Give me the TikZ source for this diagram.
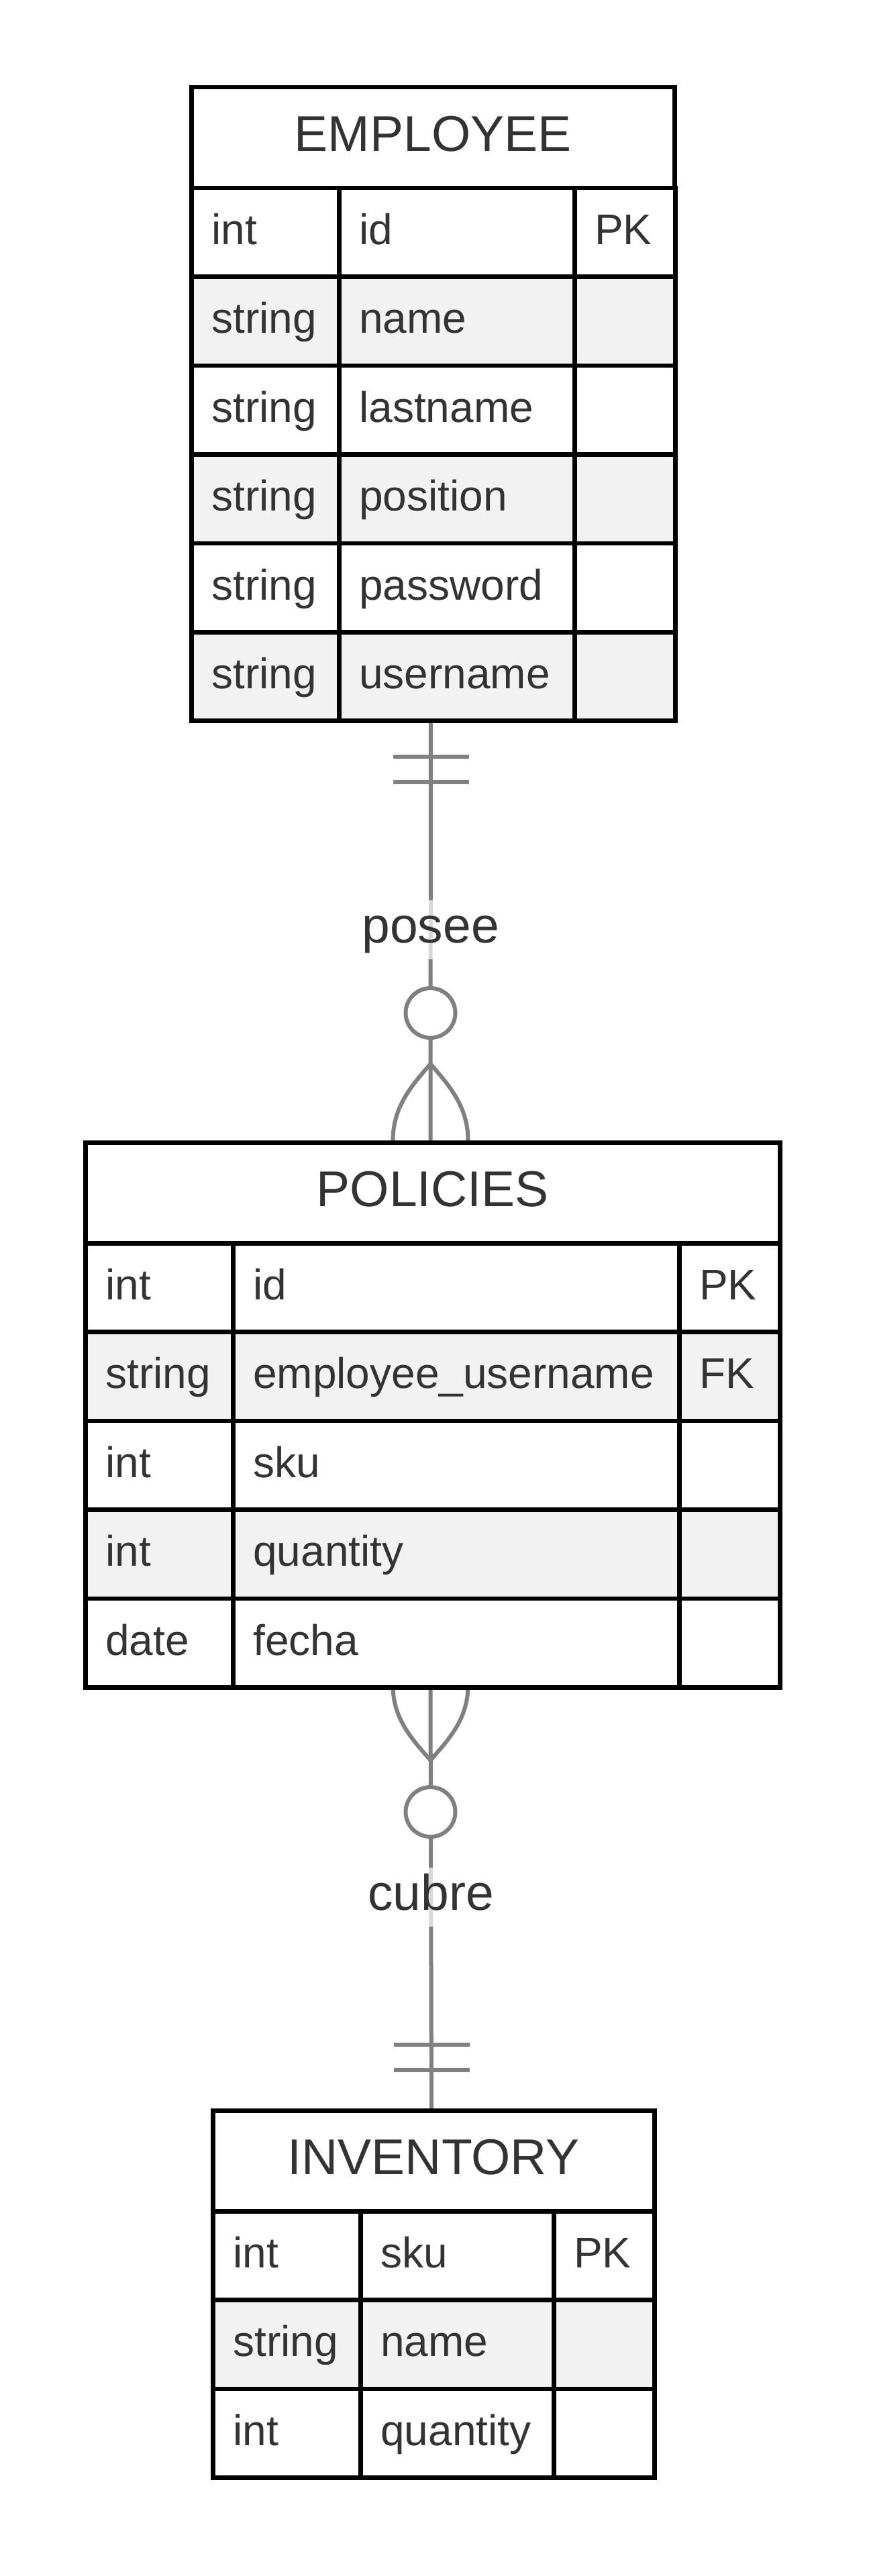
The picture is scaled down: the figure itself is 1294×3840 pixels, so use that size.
\documentclass[tikz,border=0pt]{standalone}
\usepackage{fontspec}
\setmainfont{Liberation Sans}
\usepackage{tikz}
\definecolor{textgray}{HTML}{333333}
\definecolor{rowgray}{HTML}{F2F2F2}
\definecolor{relgray}{HTML}{808080}
\newcommand*{\headfont}{\fontsize{75}{80}\selectfont}
\newcommand*{\rowfont}{\fontsize{64}{70}\selectfont}

\begin{document}
\begin{tikzpicture}
[
    x = 1pt, y = -1pt,
    tablebox/.style={anchor = north west, inner sep = 0pt, outer sep = 0pt},
    headcell/.style={draw = black, fill = white, line width = 6.5pt, anchor = north west, minimum height = 150pt, inner xsep = 30pt, inner ysep = 0pt, text height = 56pt, text depth = 16pt, align = center, font = \headfont, text = textgray},
    cell/.style={draw = black, line width = 6.5pt, anchor = north west, minimum height = 132.4pt, inner xsep = 30pt, inner ysep = 0pt, text height = 50pt, text depth = 14pt, align = left, font = \rowfont, text = textgray},
    typecell/.style={cell, text width = 160pt},
    keycell/.style={cell, text width = 90pt},
    rel/.style={draw = relgray, line width = 6pt},
    optional/.style={circle, draw = relgray, fill = white, line width = 6pt, minimum size = 74pt, inner sep = 0pt},
    rellabel/.style={fill = white, fill opacity = .7, text opacity = 1, inner sep = 0pt, text height = 64pt, text depth = 24pt, font = \headfont, text = textgray},
]
\useasboundingbox (0,0) rectangle (1294,3840);

% Table frames, used as connector ends
\node[tablebox, minimum width = 720pt, minimum height = 944.4pt] (employee) at (282,127) {};
\node[tablebox, minimum width = 1035pt, minimum height = 812pt] (policies) at (124,1700) {};
\node[tablebox, minimum width = 658pt, minimum height = 547.2pt] (inventory) at (314,3143) {};

% EMPLOYEE to POLICIES: one and only one / zero or many
\draw[rel] (employee.south) -- node[rellabel] (posee) {posee} (policies.north);
\draw[rel] ([shift={(-56.5,57)}]employee.south) -- ++(113,0);
\draw[rel] ([shift={(-56.5,95)}]employee.south) -- ++(113,0);
\coordinate (posee-crow) at ([shift={(0,-114)}]policies.north);
\draw[rel] (posee-crow) .. controls +(-28,32) and +(0,-50) .. ([shift={(-56,0)}]policies.north);
\draw[rel] (posee-crow) .. controls +(28,32) and +(0,-50) .. ([shift={(56,0)}]policies.north);
\node[optional] (posee-o) at ([shift={(0,-190)}]policies.north) {};

% POLICIES to INVENTORY
\draw[rel] (policies.south) -- node[rellabel] (cubre) {cubre} (inventory.north);
\coordinate (cubre-crow) at ([shift={(0,112)}]policies.south);
\draw[rel] (cubre-crow) .. controls +(-28,-32) and +(0,50) .. ([shift={(-56,0)}]policies.south);
\draw[rel] (cubre-crow) .. controls +(28,-32) and +(0,50) .. ([shift={(56,0)}]policies.south);
\node[optional] (cubre-o) at ([shift={(0,189)}]policies.south) {};
\draw[rel] ([shift={(-56.5,-95)}]inventory.north) -- ++(113,0);
\draw[rel] ([shift={(-56.5,-57)}]inventory.north) -- ++(113,0);

% EMPLOYEE
\node[headcell, text width = 660pt] (employee-head) at (282,127) {EMPLOYEE};
\foreach \ftype/\fname/\fkey/\ftint [count = \i from 0] in {int/id/PK/white, string/name/{}/rowgray, string/lastname/{}/white, string/position/{}/rowgray, string/password/{}/white, string/username/{}/rowgray}
{
    \node[typecell, fill = \ftint] (employee-t\i) at (282,{277+\i*132.4}) {\ftype};
    \node[cell, text width = 291pt, fill = \ftint] (employee-f\i) at (502,{277+\i*132.4}) {\fname};
    \node[keycell, fill = \ftint] (employee-k\i) at (853,{277+\i*132.4}) {\fkey};
}

% POLICIES
\node[headcell, text width = 975pt] (policies-head) at (124,1700) {POLICIES};
\foreach \ftype/\fname/\fkey/\ftint [count = \i from 0] in {int/id/PK/white, string/employee\_username/FK/rowgray, int/sku/{}/white, int/quantity/{}/rowgray, date/fecha/{}/white}
{
    \node[typecell, fill = \ftint] (policies-t\i) at (124,{1850+\i*132.4}) {\ftype};
    \node[cell, text width = 605pt, fill = \ftint] (policies-f\i) at (344,{1850+\i*132.4}) {\fname};
    \node[keycell, fill = \ftint] (policies-k\i) at (1009,{1850+\i*132.4}) {\fkey};
}

% INVENTORY
\node[headcell, text width = 598pt] (inventory-head) at (314,3143) {INVENTORY};
\foreach \ftype/\fname/\fkey/\ftint [count = \i from 0] in {int/sku/PK/white, string/name/{}/rowgray, int/quantity/{}/white}
{
    \node[typecell, fill = \ftint] (inventory-t\i) at (314,{3293+\i*132.4}) {\ftype};
    \node[cell, text width = 228pt, fill = \ftint] (inventory-f\i) at (534,{3293+\i*132.4}) {\fname};
    \node[keycell, fill = \ftint] (inventory-k\i) at (822,{3293+\i*132.4}) {\fkey};
}
\end{tikzpicture}
\end{document}
